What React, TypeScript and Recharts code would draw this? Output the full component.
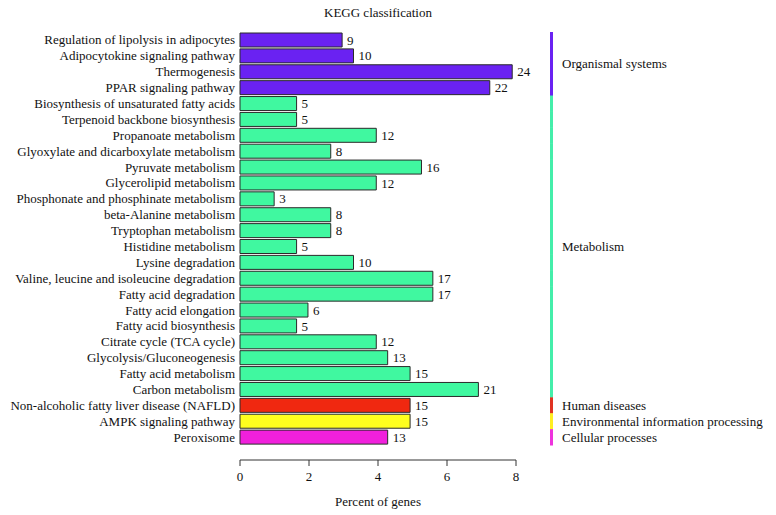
import React from "react";
import { BarChart, Bar, XAxis, YAxis, Cell, LabelList } from "recharts";

const categories = [
  "Regulation of lipolysis in adipocytes",
  "Adipocytokine signaling pathway",
  "Thermogenesis",
  "PPAR signaling pathway",
  "Biosynthesis of unsaturated fatty acids",
  "Terpenoid backbone biosynthesis",
  "Propanoate metabolism",
  "Glyoxylate and dicarboxylate metabolism",
  "Pyruvate metabolism",
  "Glycerolipid metabolism",
  "Phosphonate and phosphinate metabolism",
  "beta-Alanine metabolism",
  "Tryptophan metabolism",
  "Histidine metabolism",
  "Lysine degradation",
  "Valine, leucine and isoleucine degradation",
  "Fatty acid degradation",
  "Fatty acid elongation",
  "Fatty acid biosynthesis",
  "Citrate cycle (TCA cycle)",
  "Glycolysis/Gluconeogenesis",
  "Fatty acid metabolism",
  "Carbon metabolism",
  "Non-alcoholic fatty liver disease (NAFLD)",
  "AMPK signaling pathway",
  "Peroxisome",
];

const percents = [
  2.96, 3.29, 7.89, 7.24, 1.64, 1.64, 3.95, 2.63, 5.26, 3.95, 0.99, 2.63, 2.63,
  1.64, 3.29, 5.59, 5.59, 1.97, 1.64, 3.95, 4.28, 4.93, 6.91, 4.93, 4.93, 4.28,
];

const counts = [
  9, 10, 24, 22, 5, 5, 12, 8, 16, 12, 3, 8, 8, 5, 10, 17, 17, 6, 5, 12, 13, 15,
  21, 15, 15, 13,
];

const groups = [
  "Organismal systems", "Organismal systems", "Organismal systems", "Organismal systems",
  "Metabolism", "Metabolism", "Metabolism", "Metabolism", "Metabolism", "Metabolism",
  "Metabolism", "Metabolism", "Metabolism", "Metabolism", "Metabolism", "Metabolism",
  "Metabolism", "Metabolism", "Metabolism", "Metabolism", "Metabolism", "Metabolism",
  "Metabolism", "Human diseases", "Environmental information processing", "Cellular processes",
];

const groupNames = [
  "Organismal systems",
  "Metabolism",
  "Human diseases",
  "Environmental information processing",
  "Cellular processes",
];
const barColors = ["#6A22F2", "#40F8A0", "#F02810", "#FFFF1E", "#F020DC"];
const lineColors = ["#6A22F2", "#44EEAA", "#E03322", "#FFEE22", "#EE33DD"];

const xTicks = [0, 2, 4, 6, 8];

const data = categories.map((name, i) => ({
  name,
  percent: percents[i],
  count: counts[i],
  group: groups[i],
}));

const W = 776;
const H = 515;
const TOP = 32;
const BOTTOM_AXIS = 55;
const PAD_BOTTOM = 15;
const BAND = (H - TOP - BOTTOM_AXIS - PAD_BOTTOM) / categories.length;
const FONT = "'Liberation Serif', 'Times New Roman', serif";
const FS = 13;

const LeftTick = (props: any) => {
  const { x, y, payload } = props;
  return (
    <text x={x} y={y} dy="0.35em" textAnchor="end" fontSize={FS} fontFamily={FONT} fill="#111">
      {payload.value}
    </text>
  );
};

const RightTick = (props: any) => {
  const { x, y, payload } = props;
  const idx = payload.index ?? categories.indexOf(payload.value);
  const g = groups[idx];
  const gi = groupNames.indexOf(g);
  const members = groups.map((v, i) => (v === g ? i : -1)).filter((i) => i >= 0);
  const first = members[0];
  const last = members[members.length - 1];
  const mid = (first + last) / 2;
  const showLabel = idx === Math.floor(mid);
  const labelDy = (mid - Math.floor(mid)) * BAND;
  return (
    <g>
      <rect x={x + 34} y={y - BAND / 2} width={3} height={BAND + 0.5} fill={lineColors[gi]} />
      {showLabel && (
        <text x={x + 46} y={y + labelDy} dy="0.35em" fontSize={FS} fontFamily={FONT} fill="#111">
          {g}
        </text>
      )}
    </g>
  );
};

export default function App() {
  return (
    <div style={{ position: "absolute", left: 0, top: 0, width: W, height: H, background: "#fff" }}>
      <div
        style={{
          position: "absolute",
          left: 240,
          width: 276,
          top: 5,
          textAlign: "center",
          fontFamily: FONT,
          fontSize: FS,
          color: "#111",
        }}
      >
        KEGG classification
      </div>
      <BarChart
        width={W}
        height={H}
        data={data}
        layout="vertical"
        margin={{ top: TOP, right: 0, bottom: 0, left: 0 }}
        barCategoryGap={1}
      >
        <XAxis
          type="number"
          domain={[0, 8]}
          ticks={xTicks}
          height={BOTTOM_AXIS}
          tick={{ fontSize: FS, fontFamily: FONT, fill: "#111" }}
          tickSize={6}
          tickMargin={6}
          stroke="#333"
          axisLine={{ stroke: "#333" }}
          tickLine={{ stroke: "#333" }}
          label={{
            value: "Percent of genes",
            position: "insideBottom",
            offset: 9,
            fontSize: FS,
            fontFamily: FONT,
            fill: "#111",
          }}
        />
        <YAxis
          type="category"
          dataKey="name"
          yAxisId="left"
          width={240}
          axisLine={false}
          tickLine={false}
          tickSize={0}
          tickMargin={5}
          interval={0}
          padding={{ top: 0, bottom: PAD_BOTTOM }}
          tick={<LeftTick />}
        />
        <YAxis
          type="category"
          dataKey="name"
          yAxisId="right"
          orientation="right"
          width={260}
          axisLine={false}
          tickLine={false}
          tickSize={0}
          tickMargin={0}
          interval={0}
          padding={{ top: 0, bottom: PAD_BOTTOM }}
          tick={<RightTick />}
        />
        <Bar dataKey="percent" yAxisId="left" stroke="#2a2a2a" strokeWidth={1} isAnimationActive={false}>
          {data.map((d, i) => (
            <Cell key={i} fill={barColors[groupNames.indexOf(d.group)]} />
          ))}
          <LabelList
            dataKey="count"
            position="right"
            offset={5}
            style={{ fontSize: FS, fontFamily: FONT, fill: "#111" }}
          />
        </Bar>
      </BarChart>
    </div>
  );
}
